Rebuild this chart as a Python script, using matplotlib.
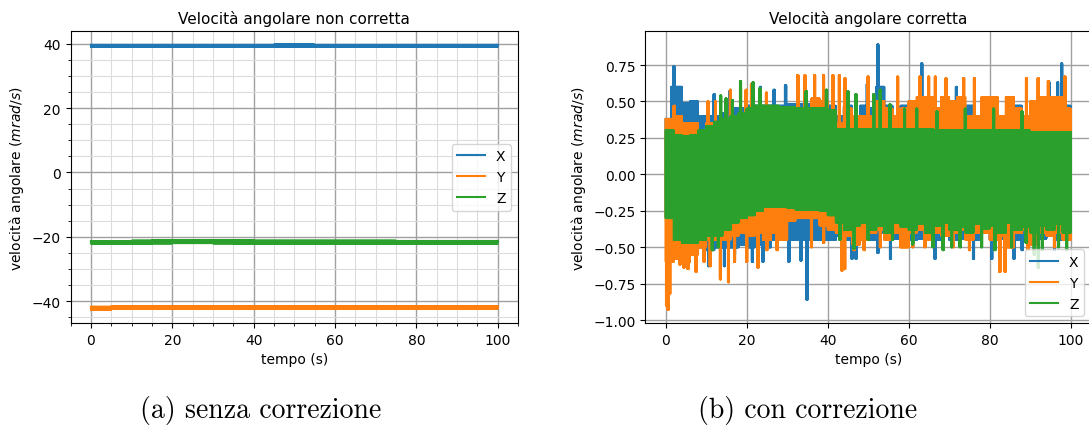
import numpy as np
import matplotlib
matplotlib.use("Agg")
import matplotlib.pyplot as plt

# ---------------- data ----------------
# Left panel (uncorrected): band edges every 5 s
t_left_knots = [0, 5, 10, 15, 20, 25, 30, 35, 40, 45, 50, 55, 60, 65, 70, 75, 80, 85, 90, 95, 100]
x_left_upper = [39.6, 39.6, 39.6, 39.6, 39.6, 39.6, 39.6, 39.6, 39.6, 39.65, 39.65,
                39.6, 39.6, 39.6, 39.6, 39.6, 39.6, 39.6, 39.6, 39.6, 39.6]
x_left_lower = [39.0, 39.0, 39.0, 39.0, 39.0, 39.0, 39.0, 39.0, 39.0, 39.0, 39.0,
                39.0, 39.0, 39.0, 39.0, 39.0, 39.0, 39.0, 39.0, 39.0, 39.0]
y_left_upper = [-41.7, -41.6, -41.6, -41.6, -41.55, -41.55, -41.5, -41.5, -41.5, -41.5, -41.5,
                -41.5, -41.5, -41.5, -41.5, -41.5, -41.5, -41.5, -41.5, -41.5, -41.5]
y_left_lower = [-42.6, -42.3, -42.3, -42.25, -42.2, -42.2, -42.2, -42.2, -42.2, -42.2, -42.2,
                -42.2, -42.2, -42.2, -42.2, -42.2, -42.2, -42.2, -42.2, -42.2, -42.2]
z_left_upper = [-21.3, -21.3, -21.2, -21.05, -21.0, -21.0, -21.05, -21.1, -21.2, -21.2, -21.2,
                -21.2, -21.2, -21.2, -21.2, -21.25, -21.25, -21.25, -21.25, -21.25, -21.25]
z_left_lower = [-22.0, -22.0, -22.0, -21.95, -21.9, -21.9, -21.95, -22.0, -22.0, -22.0, -22.0,
                -22.0, -22.0, -22.0, -22.0, -22.0, -22.0, -22.0, -22.0, -22.0, -22.0]

# Right panel (corrected): band edges every 2 s
t_right_knots = list(range(0, 101, 2))
x_right_upper = [0.38, 0.60, 0.49, 0.50, 0.40, 0.40, 0.40, 0.42, 0.45, 0.45, 0.47, 0.47, 0.47,
                 0.47, 0.47, 0.48, 0.48, 0.48, 0.48, 0.48, 0.47, 0.40, 0.47, 0.40, 0.47, 0.45,
                 0.60, 0.47, 0.40, 0.47, 0.40, 0.47, 0.40, 0.40, 0.45, 0.47, 0.40, 0.47, 0.40,
                 0.40, 0.47, 0.40, 0.40, 0.47, 0.40, 0.47, 0.40, 0.47, 0.47, 0.47, 0.40]
x_right_lower = [-0.30, -0.55, -0.50, -0.50, -0.50, -0.52, -0.50, -0.50, -0.50, -0.48, -0.50,
                 -0.48, -0.50, -0.45, -0.45, -0.45, -0.45, -0.45, -0.45, -0.45, -0.45, -0.42,
                 -0.45, -0.40, -0.44, -0.45, -0.40, -0.45, -0.44, -0.40, -0.45, -0.44, -0.40,
                 -0.45, -0.40, -0.45, -0.44, -0.40, -0.45, -0.40, -0.45, -0.44, -0.40, -0.45,
                 -0.40, -0.45, -0.44, -0.40, -0.45, -0.40, -0.45]
y_right_upper = [0.38, 0.40, 0.35, 0.35, 0.30, 0.35, 0.30, 0.35, 0.40, 0.42, 0.40, 0.40, 0.40,
                 0.40, 0.40, 0.40, 0.40, 0.40, 0.52, 0.50, 0.40, 0.35, 0.45, 0.40, 0.40, 0.40,
                 0.50, 0.45, 0.40, 0.45, 0.50, 0.53, 0.53, 0.45, 0.53, 0.50, 0.53, 0.40, 0.40,
                 0.53, 0.53, 0.40, 0.53, 0.45, 0.40, 0.50, 0.53, 0.53, 0.53, 0.45, 0.40]
y_right_lower = [-0.60, -0.58, -0.60, -0.55, -0.50, -0.45, -0.45, -0.45, -0.42, -0.40, -0.42,
                 -0.40, -0.45, -0.40, -0.45, -0.32, -0.30, -0.30, -0.30, -0.35, -0.38, -0.40,
                 -0.42, -0.48, -0.45, -0.40, -0.38, -0.45, -0.40, -0.50, -0.40, -0.38, -0.45,
                 -0.40, -0.42, -0.40, -0.38, -0.45, -0.40, -0.40, -0.45, -0.42, -0.50, -0.40,
                 -0.38, -0.48, -0.40, -0.42, -0.40, -0.45, -0.40]
z_right_upper = [0.30, 0.27, 0.26, 0.27, 0.30, 0.33, 0.36, 0.38, 0.40, 0.42, 0.45, 0.47, 0.47,
                 0.47, 0.46, 0.46, 0.45, 0.45, 0.45, 0.45, 0.44, 0.31, 0.31, 0.31, 0.31, 0.31,
                 0.31, 0.31, 0.31, 0.31, 0.31, 0.31, 0.31, 0.30, 0.30, 0.30, 0.30, 0.30, 0.30,
                 0.30, 0.30, 0.30, 0.30, 0.30, 0.30, 0.29, 0.29, 0.29, 0.29, 0.29, 0.29]
z_right_lower = [-0.30, -0.45, -0.47, -0.47, -0.45, -0.42, -0.42, -0.38, -0.33, -0.30, -0.28,
                 -0.25, -0.22, -0.22, -0.22, -0.23, -0.24, -0.24, -0.24, -0.25, -0.28, -0.33,
                 -0.38, -0.35, -0.33, -0.38, -0.35, -0.40, -0.33, -0.36, -0.38, -0.34, -0.40,
                 -0.35, -0.33, -0.38, -0.36, -0.40, -0.34, -0.37, -0.35, -0.40, -0.33, -0.38,
                 -0.36, -0.40, -0.35, -0.38, -0.34, -0.40, -0.36]

# isolated spikes (time s, value mrad/s)
x_spikes_up = [(1.5, 0.60), (2.0, 0.74), (12.0, 0.55), (15.8, 0.57), (23.4, 0.60), (26.8, 0.58),
               (29.6, 0.61), (49.8, 0.62), (52.4, 0.89), (63.2, 0.76), (71.8, 0.60), (94.7, 0.63),
               (96.8, 0.63), (97.8, 0.76)]
x_spikes_down = [(1.2, -0.60), (10.6, -0.63), (14.5, -0.63), (17.0, -0.55), (21.4, -0.60),
                 (24.0, -0.60), (30.4, -0.60), (33.4, -0.59), (34.9, -0.86), (46.0, -0.58),
                 (47.0, -0.58), (52.4, -0.54), (55.5, -0.58), (66.5, -0.58), (76.0, -0.58),
                 (80.5, -0.58), (86.0, -0.58), (88.0, -0.52), (96.0, -0.52)]
y_spikes_up = [(2.1, 0.47), (10.5, 0.50), (12.3, 0.50), (16.0, 0.58), (18.5, 0.59), (19.9, 0.58),
               (21.2, 0.62), (24.9, 0.56), (32.6, 0.68), (34.4, 0.68), (36.8, 0.68), (39.0, 0.68),
               (41.3, 0.68), (42.9, 0.68), (44.3, 0.66), (50.0, 0.67), (57.3, 0.67), (62.8, 0.67),
               (64.9, 0.67), (66.6, 0.67), (69.2, 0.66), (73.6, 0.66), (76.2, 0.66), (89.1, 0.66),
               (92.0, 0.66), (94.5, 0.64), (98.6, 0.67)]
y_spikes_down = [(0.2, -0.90), (0.6, -0.93), (1.0, -0.82), (1.8, -0.60), (3.5, -0.62),
                 (4.5, -0.64), (5.5, -0.65), (7.5, -0.67), (9.5, -0.60), (11.0, -0.63),
                 (13.5, -0.72), (15.5, -0.74), (17.0, -0.60), (20.0, -0.60), (22.8, -0.64),
                 (25.0, -0.52), (27.5, -0.52), (36.0, -0.50), (39.0, -0.47), (43.5, -0.66),
                 (44.2, -0.65), (46.5, -0.52), (49.0, -0.52), (53.0, -0.50), (58.0, -0.50),
                 (61.0, -0.50), (64.0, -0.50), (71.0, -0.50), (75.0, -0.52), (82.5, -0.67),
                 (83.8, -0.67), (89.5, -0.52), (96.0, -0.50)]
z_spikes_up = [(13.6, 0.54), (14.9, 0.52), (16.5, 0.51), (18.5, 0.64), (21.6, 0.63), (23.3, 0.59),
               (34.7, 0.57), (39.7, 0.58), (45.0, 0.57), (47.0, 0.55), (51.4, 0.55), (53.0, 0.58),
               (55.4, 0.48), (59.0, 0.45), (62.0, 0.45), (67.0, 0.43), (74.0, 0.45), (81.0, 0.45),
               (88.0, 0.43)]
z_spikes_down = [(11.5, -0.52), (13.0, -0.50), (43.0, -0.45), (46.5, -0.51), (50.0, -0.45),
                 (56.0, -0.45), (61.0, -0.48), (66.0, -0.50), (68.5, -0.52), (70.6, -0.50),
                 (72.7, -0.50), (78.0, -0.50), (81.3, -0.52), (85.4, -0.50), (89.0, -0.47),
                 (91.0, -0.55), (92.0, -0.64), (93.0, -0.52), (97.0, -0.50), (99.0, -0.52)]

labels = ["X", "Y", "Z"]
colors = ["tab:blue", "tab:orange", "tab:green"]


def band_signal(knots, upper, lower, spikes_up=(), spikes_down=(), n=4001, half_width=0.15):
    """Dense trace that swings between the read band edges (held per knot)."""
    knots = np.asarray(knots, float)
    upper = np.asarray(upper, float)
    lower = np.asarray(lower, float)
    t = np.linspace(knots[0], knots[-1], n)
    idx = np.clip(np.searchsorted(knots, t, side="right") - 1, 0, len(knots) - 1)
    even = (np.arange(n) % 2) == 0
    y = np.where(even, upper[idx], lower[idx])
    for ts, v in spikes_up:
        y[(np.abs(t - ts) <= half_width) & even] = v
    for ts, v in spikes_down:
        y[(np.abs(t - ts) <= half_width) & ~even] = v
    return t, y


fig = plt.figure(figsize=(10.89, 4.27), dpi=100)
ax1 = fig.add_axes([0.0648, 0.2412, 0.4109, 0.6827])
ax2 = fig.add_axes([0.5927, 0.2412, 0.4091, 0.6827])

left_sets = [(x_left_upper, x_left_lower), (y_left_upper, y_left_lower), (z_left_upper, z_left_lower)]
for (up, lo), lab, c in zip(left_sets, labels, colors):
    t, y = band_signal(t_left_knots, up, lo)
    ax1.plot(t, y, color=c, lw=1.5, label=lab)

right_sets = [(x_right_upper, x_right_lower, x_spikes_up, x_spikes_down),
              (y_right_upper, y_right_lower, y_spikes_up, y_spikes_down),
              (z_right_upper, z_right_lower, z_spikes_up, z_spikes_down)]
for (up, lo, su, sd), lab, c in zip(right_sets, labels, colors):
    t, y = band_signal(t_right_knots, up, lo, su, sd)
    ax2.plot(t, y, color=c, lw=1.5, label=lab)

# left styling
ax1.set_title("Velocità angolare non corretta", fontsize=11)
ax1.set_xlabel("tempo (s)")
ax1.set_ylabel("velocità angolare ($mrad/s$)")
ax1.set_xticks([0, 20, 40, 60, 80, 100])
ax1.set_yticks([-40, -20, 0, 20, 40])
ax1.minorticks_on()
ax1.grid(True, which="major", color="#a0a0a0", lw=1.0)
ax1.grid(True, which="minor", color="#dcdcdc", lw=0.8)
ax1.legend(loc="center right")

# right styling
ax2.set_title("Velocità angolare corretta", fontsize=11)
ax2.set_xlabel("tempo (s)")
ax2.set_ylabel("velocità angolare ($mrad/s$)")
ax2.set_xticks([0, 20, 40, 60, 80, 100])
ax2.set_yticks([-1.0, -0.75, -0.5, -0.25, 0.0, 0.25, 0.5, 0.75])
ax2.set_ylim(-1.02, 0.98)
ax2.grid(True, which="major", color="#a0a0a0", lw=1.0)
ax2.legend(loc="lower right")

fig.text(0.239, 0.022, "(a) senza correzione", family="cmr10", fontsize=20, ha="center", va="baseline")
fig.text(0.742, 0.022, "(b) con correzione", family="cmr10", fontsize=20, ha="center", va="baseline")

fig.savefig("out.png", dpi=100)
